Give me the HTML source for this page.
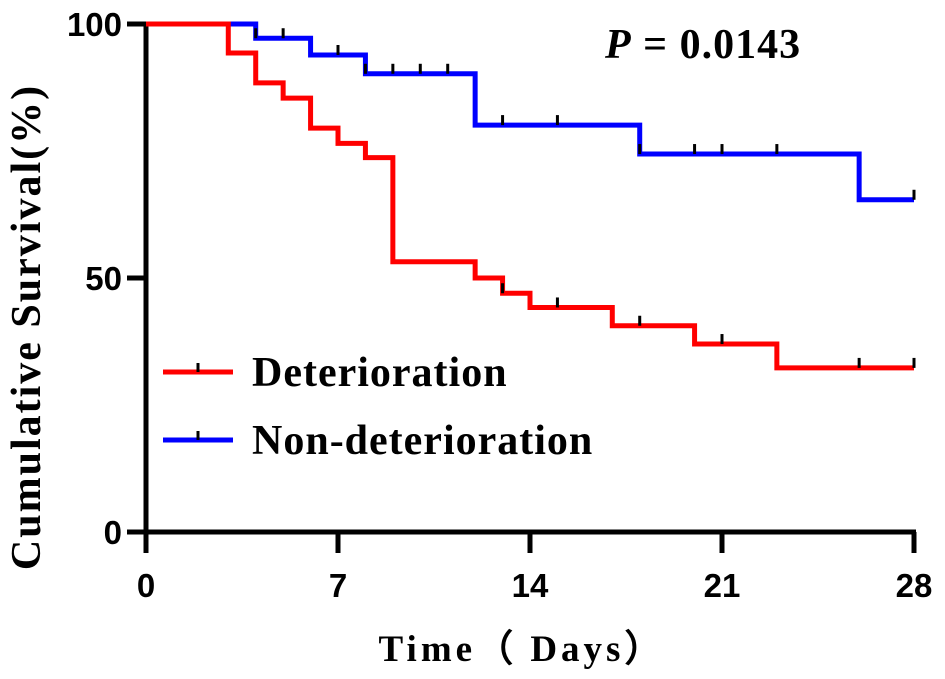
<!DOCTYPE html>
<html><head><meta charset="utf-8"><style>
html,body{margin:0;padding:0;background:#fff;}
svg{display:block;}
</style></head><body>
<svg id="chart" width="945" height="679" xmlns="http://www.w3.org/2000/svg">
<g id="axes"></g>
<g id="series"></g>
<text x="605" y="58" font-family="Liberation Serif, serif" font-weight="bold" font-size="42" letter-spacing="1" fill="#000"><tspan font-style="italic">P</tspan> = 0.0143</text>
<g>
 <g>
  <line x1="163" y1="372" x2="233" y2="372" stroke="#ff0000" stroke-width="5"/>
  <line x1="198" y1="363" x2="198" y2="372" stroke="#000" stroke-width="3"/>
  <text x="252" y="386" font-family="Liberation Serif, serif" font-weight="bold" font-size="42" letter-spacing="1" fill="#000">Deterioration</text>
 </g>
 <g>
  <line x1="163" y1="440" x2="233" y2="440" stroke="#0000ff" stroke-width="5"/>
  <line x1="198" y1="431" x2="198" y2="440" stroke="#000" stroke-width="3"/>
  <text x="252" y="454" font-family="Liberation Serif, serif" font-weight="bold" font-size="42" letter-spacing="1" fill="#000">Non-deterioration</text>
 </g>
</g>
<text x="522" y="661" text-anchor="middle" font-family="Liberation Serif, serif" font-weight="bold" font-size="37" letter-spacing="4" fill="#000">Time（ Days）</text>
<text transform="translate(40,327) rotate(-90)" text-anchor="middle" font-family="Liberation Serif, serif" font-weight="bold" font-size="42" letter-spacing="2" fill="#000">Cumulative Survival(%)</text>
</svg>
<script>
const xTicks = [0, 7, 14, 21, 28];
const yTicks = [0, 50, 100];
const redTimes = [0, 3, 4, 5, 6, 7, 8, 9, 12, 13, 14, 17, 20, 23, 28];
const redValues = [100, 94.3, 88.4, 85.4, 79.5, 76.5, 73.7, 53.2, 50, 47, 44.2, 40.6, 37, 32.3, 32.3];
const redCensor = [13, 15, 18, 21, 26, 28];
const blueTimes = [0, 4, 6, 8, 12, 18, 26, 28];
const blueValues = [100, 97.2, 93.9, 90.2, 80.1, 74.4, 65.4, 65.4];
const blueCensor = [4, 5, 7, 8, 9, 10, 11, 13, 15, 18, 20, 21, 23, 28];

const NS = 'http://www.w3.org/2000/svg';
const X0 = 146, X1 = 914, Y0 = 532, Y1 = 24;
const xs = d => X0 + (d / 28) * (X1 - X0);
const ys = v => Y0 - (v / 100) * (Y0 - Y1);
function mk(tag, attrs, parent) {
  const e = document.createElementNS(NS, tag);
  for (const k in attrs) e.setAttribute(k, attrs[k]);
  parent.appendChild(e);
  return e;
}
const axes = document.getElementById('axes');
const series = document.getElementById('series');
const ya = mk('line', {x1: X0, y1: Y1 - 2, x2: X0, y2: Y0 + 21, stroke: '#000', 'stroke-width': 5}, axes);


const xa = mk('line', {x1: X0 - 19, y1: Y0, x2: X1 + 2, y2: Y0, stroke: '#000', 'stroke-width': 5}, axes);


xTicks.forEach(t => {
  const l = mk('line', {x1: xs(t), y1: Y0, x2: xs(t), y2: Y0 + 21, stroke: '#000', 'stroke-width': 5}, axes);
  
  
  const tx = mk('text', {x: xs(t), y: 597, 'text-anchor': 'middle', 'font-family': 'Liberation Sans, sans-serif', 'font-weight': 'bold', 'font-size': 33}, axes);
  tx.textContent = t;
  
  
});
yTicks.forEach(t => {
  const l = mk('line', {x1: X0 - 19, y1: ys(t), x2: X0, y2: ys(t), stroke: '#000', 'stroke-width': 5}, axes);
  
  
  const tx = mk('text', {x: X0 - 24, y: ys(t) + 12, 'text-anchor': 'end', 'font-family': 'Liberation Sans, sans-serif', 'font-weight': 'bold', 'font-size': 33}, axes);
  tx.textContent = t;
  
  
});
function stepVal(times, vals, t) {
  let v = vals[0];
  for (let i = 0; i < times.length; i++) if (times[i] <= t) v = vals[i];
  return v;
}
function drawSeries(times, vals, censor, color, name) {
  let d = 'M' + xs(times[0]) + ',' + ys(vals[0]);
  for (let i = 1; i < times.length; i++) {
    d += ' H' + xs(times[i]) + ' V' + ys(vals[i]);
  }
  const p = mk('path', {d: d, fill: 'none', stroke: color, 'stroke-width': 5}, series);
  
  
  censor.forEach(c => {
    const v = stepVal(times, vals, c);
    const m = mk('line', {x1: xs(c), y1: ys(v) - 10, x2: xs(c), y2: ys(v), stroke: '#000', 'stroke-width': 3}, series);
    
    
  });
}
drawSeries(blueTimes, blueValues, blueCensor, '#0000ff', 'non-deterioration');
drawSeries(redTimes, redValues, redCensor, '#ff0000', 'deterioration');
</script>
</body></html>
